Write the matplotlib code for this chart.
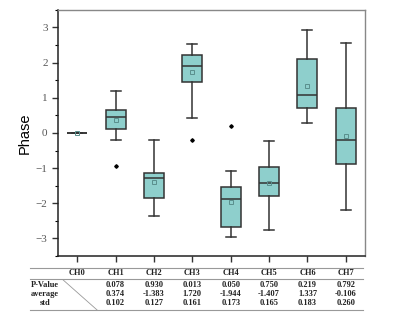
import matplotlib.pyplot as plt
import matplotlib.transforms as mtransforms
from matplotlib.lines import Line2D
from matplotlib.ticker import MultipleLocator

channels = ["CH0", "CH1", "CH2", "CH3", "CH4", "CH5", "CH6", "CH7"]
whis_lo = [0.0, -0.19, -2.37, 0.43, -2.97, -2.76, 0.28, -2.20]
q1 = [0.0, 0.10, -1.84, 1.46, -2.67, -1.80, 0.72, -0.87]
med = [0.0, 0.45, -1.27, 1.90, -1.87, -1.41, 1.07, -0.21]
q3 = [0.0, 0.65, -1.15, 2.22, -1.54, -0.96, 2.11, 0.72]
whis_hi = [0.0, 1.20, -0.19, 2.53, -1.07, -0.22, 2.93, 2.57]
means = [0.0, 0.37, -1.39, 1.72, -1.95, -1.41, 1.34, -0.10]
fliers = [[], [-0.93], [], [-0.19], [0.21], [], [], []]

row_names = ["P-Value", "average", "std"]
p_values = ["", "0.078", "0.930", "0.013", "0.050", "0.750", "0.219", "0.792"]
averages = ["", "0.374", "-1.383", "1.720", "-1.944", "-1.407", "1.337", "-0.106"]
stds = ["", "0.102", "0.127", "0.161", "0.173", "0.165", "0.183", "0.260"]

stats = []
for i in range(len(channels)):
    stats.append({"whislo": whis_lo[i], "q1": q1[i], "med": med[i], "q3": q3[i],
                  "whishi": whis_hi[i], "mean": means[i], "fliers": fliers[i]})

fig = plt.figure(figsize=(4, 3.2), dpi=100)
ax = fig.add_axes([0.145, 0.2, 0.7675, 0.769])

edge = "#333333"
ax.bxp(stats, positions=range(len(channels)), widths=0.52, patch_artist=True,
       showmeans=True, showcaps=True,
       boxprops=dict(facecolor="#8ecfcc", edgecolor=edge, linewidth=1.1),
       medianprops=dict(color=edge, linewidth=1.1),
       whiskerprops=dict(color=edge, linewidth=1.1),
       capprops=dict(color=edge, linewidth=1.1),
       capwidths=0.26,
       meanprops=dict(marker="s", markersize=2.5, markerfacecolor="none",
                      markeredgecolor="#5a8f8d", markeredgewidth=0.7),
       flierprops=dict(marker="D", markersize=1.8, markerfacecolor="black",
                       markeredgecolor="black"))

ax.set_xlim(-0.5, 7.5)
ax.set_ylim(-3.5, 3.5)
ax.set_xticks(range(len(channels)))
ax.set_xticklabels([])
ax.yaxis.set_major_locator(MultipleLocator(1))
ax.yaxis.set_minor_locator(MultipleLocator(0.5))
ax.tick_params(axis="both", direction="out", length=4, width=1, colors="#333333")
ax.tick_params(axis="y", which="minor", direction="out", length=2.5, width=0.8)
for lab in ax.get_yticklabels():
    lab.set_fontfamily("Liberation Serif")
    lab.set_fontsize(8)
    lab.set_color("#555555")
ax.set_ylabel("Phase", fontsize=10.5, family="Liberation Sans", labelpad=3)
for s in ["left", "bottom"]:
    ax.spines[s].set_color("#222222")
    ax.spines[s].set_linewidth(1.1)
for s in ["top", "right"]:
    ax.spines[s].set_color("#888888")
    ax.spines[s].set_linewidth(1.0)

# table under the chart
trans = mtransforms.blended_transform_factory(ax.transData, fig.transFigure)
tfont = dict(family="Liberation Serif", fontweight="bold", fontsize=6, ha="center",
             va="center", color="#222222")
for y in [0.1625, 0.128, 0.031]:
    fig.add_artist(Line2D([0.075, 0.9075], [y, y], color="#999999", linewidth=0.8))
fig.add_artist(Line2D([0.158, 0.243], [0.125, 0.031], color="#999999", linewidth=0.6))

rows_y = [0.109, 0.081, 0.053]
for i, ch in enumerate(channels):
    ax.text(i, 0.147, ch, transform=trans, **tfont)
    for y, vals in zip(rows_y, [p_values, averages, stds]):
        if vals[i]:
            ax.text(i, y, vals[i], transform=trans, **tfont)
for y, name in zip(rows_y, row_names):
    fig.text(0.112, y, name, **tfont)

fig.savefig("out.png", dpi=100)
